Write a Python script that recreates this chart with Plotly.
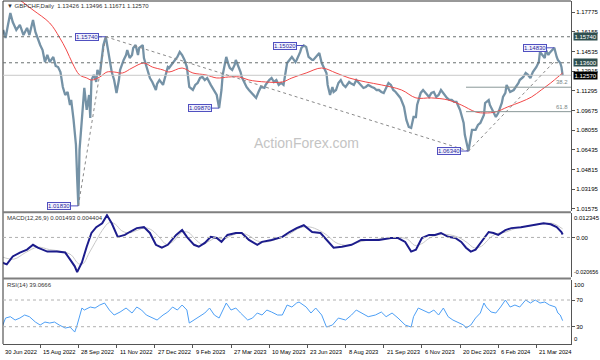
import plotly.graph_objects as go

# ---------------- data (bar index = trading days from 30 Jun 2022) ----------------
price_idx = [1,3,5,7,9,12,15,18,21,23,26,28,32,34,36,38,40,43,45,47,49,51,53,55,57,58,60,62,63,64,65,66,68,69,71,73,74,75,77,79,80,82,84,85,87,89,90,92,94,96,98,99,102,104,105,107,109,110,112,114,115,118,119,122,124,126,129,130,132,135,137,139,140,143,145,147,149,151,153,155,157,160,162,164,166,168,170,172,175,176,179,180,182,184,185,188,190,191,193,195,196,198,200,201,203,205,207,209,211,213,215,217,220,221,224,226,228,230,232,234,236,239,241,243,246,247,250,251,253,255,257,260,261,264,266,268,270,272,273,275,277,278,280,282,284,286,288,291,292,295,297,299,301,303,305,307,310,312,314,316,318,320,322,324,326,328,330,333,334,337,339,341,343,345,347,348,351,353,355,358,360,362,364,366,368,371,373,375,377,379,381,384,387,388,390,391,393,394,397,399,401,404,405,408,409,411,413,414,416,419,420,422,423,425,426,429,431,433,434,437,439,441,443,445,448,450,451,453,455,456,458,459,461,463,465,466,468,469,470]
price_close = [1.1630,1.1564,1.1671,1.1769,1.1695,1.1630,1.1671,1.1588,1.1646,1.1588,1.1712,1.1613,1.1506,1.1465,1.1366,1.1424,1.1366,1.1408,1.1334,1.1325,1.1284,1.1161,1.1095,1.1120,1.1013,1.1054,1.0890,1.0684,1.0413,1.0183,1.0644,1.0767,1.1054,1.1153,1.0972,1.1095,1.0906,1.1218,1.1260,1.1202,1.1301,1.1260,1.1424,1.1506,1.1574,1.1465,1.1383,1.1284,1.1218,1.1112,1.1218,1.1301,1.1383,1.1424,1.1465,1.1399,1.1424,1.1482,1.1506,1.1424,1.1482,1.1506,1.1399,1.1301,1.1235,1.1202,1.1136,1.1186,1.1218,1.1178,1.1260,1.1325,1.1317,1.1358,1.1383,1.1408,1.1449,1.1424,1.1383,1.1325,1.1161,1.1136,1.1178,1.1194,1.1235,1.1243,1.1218,1.1235,1.1178,1.1161,1.1120,1.1095,1.0987,1.1136,1.1260,1.1408,1.1342,1.1317,1.1301,1.1342,1.1383,1.1334,1.1284,1.1243,1.1202,1.1161,1.1136,1.1112,1.1095,1.1071,1.1120,1.1161,1.1153,1.1178,1.1218,1.1235,1.1202,1.1218,1.1178,1.1194,1.1178,1.1358,1.1383,1.1408,1.1366,1.1383,1.1449,1.1482,1.1502,1.1490,1.1408,1.1383,1.1383,1.1424,1.1441,1.1358,1.1317,1.1276,1.1178,1.1095,1.1161,1.1120,1.1136,1.1194,1.1218,1.1178,1.1161,1.1202,1.1194,1.1178,1.1218,1.1194,1.1178,1.1153,1.1161,1.1178,1.1161,1.1153,1.1136,1.1136,1.1120,1.1112,1.1153,1.1194,1.1178,1.1136,1.1120,1.1079,1.1071,1.0997,1.0890,1.0832,1.0824,1.0914,1.0914,1.1013,1.1112,1.1136,1.1112,1.1079,1.1112,1.1120,1.1079,1.1095,1.1136,1.1095,1.1071,1.1054,1.1054,1.1038,1.1038,1.0972,1.0865,1.0767,1.0660,1.0634,1.0750,1.0808,1.0808,1.0849,1.0865,1.0931,1.1029,1.1054,1.1013,1.0972,1.0931,1.0914,1.0947,1.1029,1.1079,1.1112,1.1178,1.1136,1.1120,1.1136,1.1161,1.1194,1.1218,1.1243,1.1276,1.1260,1.1235,1.1284,1.1325,1.1366,1.1449,1.1424,1.1399,1.1465,1.1424,1.1441,1.1465,1.1483,1.1408,1.1383,1.1358,1.1325,1.1257]

ma_idx = [15,26,40,48,54,59,65,71,75,82,88,94,101,109,119,126,135,140,151,160,171,180,190,199,207,221,235,243,255,268,280,291,305,318,335,347,360,374,385,397,405,414,424,435,444,452,460,466,470]
ma_val = [1.1876,1.1794,1.1687,1.1572,1.1465,1.1358,1.1260,1.1235,1.1218,1.1243,1.1284,1.1284,1.1276,1.1317,1.1358,1.1325,1.1301,1.1284,1.1317,1.1276,1.1260,1.1235,1.1243,1.1243,1.1218,1.1202,1.1202,1.1235,1.1276,1.1317,1.1276,1.1235,1.1202,1.1178,1.1136,1.1071,1.1071,1.1054,1.1013,1.0956,1.0947,1.0956,1.0997,1.1038,1.1079,1.1136,1.1194,1.1243,1.1276]

macd_idx = [0,4,9,15,21,26,30,34,38,46,53,57,61,63,67,71,75,79,84,88,92,97,103,107,113,119,124,129,134,139,146,151,155,161,165,170,175,180,184,189,196,201,207,214,218,226,235,241,247,253,260,267,272,278,285,293,301,307,316,326,332,338,343,347,352,358,363,368,374,380,385,389,393,397,402,408,412,416,422,427,435,444,448,454,460,465,469,470]
macd_val = [-0.0129,-0.0139,-0.0098,-0.0078,-0.0063,-0.0038,-0.0053,-0.0063,-0.0073,-0.0073,-0.0078,-0.0113,-0.0149,-0.0179,-0.0129,-0.0048,0.0023,0.0053,0.0073,0.0115,0.0073,0.0003,0.0013,0.0028,0.0048,0.0053,0.0023,-0.0038,-0.0053,-0.0038,0.0013,0.0038,0.0003,-0.0038,-0.0048,-0.0028,0.0003,-0.0003,-0.0023,0.0013,0.0023,0.0023,-0.0013,-0.0038,-0.0023,-0.0013,0.0003,0.0028,0.0048,0.0063,0.0028,0.0023,-0.0013,-0.0053,-0.0048,-0.0038,-0.0013,-0.0013,-0.0013,-0.0003,-0.0003,-0.0023,-0.0073,-0.0063,-0.0003,0.0013,0.0013,0.0023,0.0003,-0.0003,-0.0023,-0.0053,-0.0073,-0.0063,-0.0023,0.0028,0.0023,0.0013,0.0038,0.0048,0.0053,0.0063,0.0068,0.0073,0.0068,0.0053,0.0028,0.0015]

signal_idx = [0,10,20,30,40,50,58,64,68,73,78,84,90,95,100,106,113,120,126,132,138,144,150,156,162,168,174,180,186,192,200,207,214,222,230,240,250,258,266,273,280,290,300,310,322,332,340,346,352,358,366,375,383,390,396,402,408,414,422,432,444,454,462,470]
signal_val = [-0.0100,-0.0112,-0.0077,-0.0050,-0.0063,-0.0072,-0.0090,-0.0135,-0.0135,-0.0081,-0.0027,0.0036,0.0077,0.0068,0.0036,0.0023,0.0036,0.0050,0.0036,0.0000,-0.0036,-0.0018,0.0023,0.0027,-0.0009,-0.0036,-0.0018,0.0000,-0.0009,0.0009,0.0023,0.0009,-0.0018,-0.0023,-0.0009,0.0014,0.0050,0.0054,0.0036,0.0009,-0.0027,-0.0041,-0.0023,-0.0011,-0.0005,0.0000,-0.0009,-0.0041,-0.0032,-0.0005,0.0014,0.0014,0.0000,-0.0027,-0.0054,-0.0045,-0.0009,0.0018,0.0027,0.0050,0.0061,0.0070,0.0072,0.0044]

rsi_idx = [0,3,7,11,15,19,23,28,32,36,40,44,48,53,57,61,63,67,69,74,78,82,86,90,94,99,104,109,113,117,121,126,130,135,139,143,147,151,155,157,161,165,170,174,178,182,188,192,196,200,206,210,214,218,222,226,231,235,239,243,247,249,255,259,263,268,272,277,282,288,293,297,302,307,313,318,322,327,332,338,343,345,349,353,358,362,366,370,374,378,383,387,389,393,397,401,404,406,410,414,418,422,426,430,434,439,443,447,451,455,459,464,466,468,470]
rsi_val = [29.5,43,45,40,43,47.5,45,37,32.5,37,35.5,37,32.5,28,29.5,22,32.5,58,55,59.5,58,62.5,65.5,55,47.5,52,58,50.5,59.5,55,47.5,43,40,47.5,52,59.5,55,62.5,55,35.5,40,45,50.5,58,47.5,43,65.5,55,58,50.5,40,43,50.5,47.5,55,52,47.5,47.5,62.5,59.5,65.5,67,59.5,50.5,58,47.5,29.5,32.5,43,40,47.5,55,50.5,45,47.5,52,45,50.5,43,32.5,29.5,45,58,55,50.5,55,47.5,58,45,40,35.5,32.5,28,32.5,43,50.5,65.5,59.5,52,50.5,59.5,70,59.5,62.5,59.5,70,65.5,70,65.5,67,62.5,59.5,50.5,47.5,39.07]

date_labels = ["30 Jun 2022","15 Aug 2022","28 Sep 2022","11 Nov 2022","27 Dec 2022","9 Feb 2023",
               "27 Mar 2023","10 May 2023","23 Jun 2023","8 Aug 2023","21 Sep 2023","6 Nov 2023",
               "20 Dec 2023","6 Feb 2024","21 Mar 2024"]
date_idx = [0,32,64,96,128,160,192,224,256,288,320,352,384,416,448]

price_ticks = [1.17775,1.16155,1.14535,1.12915,1.11295,1.09675,1.08055,1.06435,1.04815,1.03195,1.01575]

swing_idx = [87,64,182,253,391,463]
swing_val = [1.15740,1.01830,1.09870,1.15020,1.06340,1.14830]

level_high = 1.15740
level_mid = 1.13600
last_close = 1.12570
fib_382 = 1.1159
fib_618 = 1.0958
fib_start = 389

# ---------------- figure ----------------
FONT = "Liberation Sans"
X_MIN = 0.84
X_MAX = 477
fig = go.Figure()
fig.add_trace(go.Scatter(x=price_idx, y=price_close, mode="lines",
                         line=dict(color="#7592a6", width=2.3), xaxis="x", yaxis="y"))
fig.add_trace(go.Scatter(x=ma_idx, y=ma_val, mode="lines",
                         line=dict(color="#f24848", width=1, shape="spline"), xaxis="x", yaxis="y"))
fig.add_trace(go.Scatter(x=signal_idx, y=signal_val, mode="lines",
                         line=dict(color="#c8c8c8", width=1, shape="spline"), xaxis="x", yaxis="y2"))
fig.add_trace(go.Scatter(x=macd_idx, y=macd_val, mode="lines",
                         line=dict(color="#1c1c8c", width=2), xaxis="x", yaxis="y2"))
fig.add_trace(go.Scatter(x=rsi_idx, y=rsi_val, mode="lines",
                         line=dict(color="#4d9ff5", width=1), xaxis="x", yaxis="y3"))

tf = dict(family=FONT, size=6, color="#000000")
fig.update_layout(
    width=600, height=360, margin=dict(l=3, r=27, t=1, b=16),
    paper_bgcolor="white", plot_bgcolor="white", showlegend=False,
    font=dict(family=FONT, size=6, color="#000"),
    xaxis=dict(domain=[0, 1], range=[X_MIN, X_MAX], anchor="y3", showgrid=False, zeroline=False,
               showline=True, linecolor="#555", ticks="outside", ticklen=3, tickcolor="#555",
               tickvals=date_idx, showticklabels=False),
    yaxis=dict(domain=[0.3878, 1], range=[1.0141, 1.1868], side="right", anchor="x",
               showgrid=False, zeroline=False, showline=True, linecolor="#555",
               ticks="outside", ticklen=3, tickcolor="#555", tickfont=tf,
               tickvals=price_ticks, ticktext=[f"{v:.5f}" for v in price_ticks]),
    yaxis2=dict(domain=[0.1939, 0.3805], range=[-0.020656, 0.012345], side="right", anchor="x",
                showgrid=False, zeroline=False, showline=True, linecolor="#555",
                ticks="outside", ticklen=3, tickcolor="#555", tickfont=tf,
                tickvals=[0], ticktext=["0.00"]),
    yaxis3=dict(domain=[0, 0.188], range=[4.1, 100.7], side="right", anchor="x",
                showgrid=False, zeroline=False, showline=True, linecolor="#555",
                ticks="outside", ticklen=3, tickcolor="#555", tickfont=tf,
                tickvals=[70, 30], ticktext=["70", "30"]),
)

shapes = []
shapes.append(dict(type="line", xref="paper", yref="paper", x0=0, x1=0, y0=0, y1=1,
                   line=dict(color="#333", width=1)))
shapes.append(dict(type="line", xref="paper", yref="paper", x0=0, x1=1, y0=1, y1=1,
                   line=dict(color="#333", width=1)))
for yy in (0.384, 0.191):
    shapes.append(dict(type="line", xref="paper", yref="paper", x0=0, x1=1, y0=yy, y1=yy,
                       line=dict(color="#7f7f7f", width=2)))
for lv in (level_high, level_mid):
    shapes.append(dict(type="line", xref="paper", yref="y", x0=0, x1=1, y0=lv, y1=lv,
                       line=dict(color="#6a7070", width=1, dash="dot")))
shapes.append(dict(type="line", xref="paper", yref="y", x0=0, x1=1, y0=last_close, y1=last_close,
                   line=dict(color="#c8c8c8", width=1)))
for lv in (fib_382, fib_618):
    shapes.append(dict(type="line", xref="x", yref="y", x0=fib_start, x1=X_MAX, y0=lv, y1=lv,
                       line=dict(color="#8a9898", width=1)))
trend = [(64, 1.0183, 87, 1.1574), (87, 1.1574, 391, 1.0634), (391, 1.0634, 464, 1.1380)]
for a, b, c, d in trend:
    shapes.append(dict(type="line", xref="x", yref="y", x0=a, y0=b, x1=c, y1=d,
                       line=dict(color="#8a8a8a", width=1, dash="dot")))
shapes.append(dict(type="line", xref="paper", yref="y2", x0=0, x1=1, y0=0, y1=0,
                   line=dict(color="#b0b0b0", width=1, dash="dot")))
for lv in (70, 30):
    shapes.append(dict(type="line", xref="paper", yref="y3", x0=0, x1=1, y0=lv, y1=lv,
                       line=dict(color="#b0b0b0", width=1, dash="dot")))
fig.update_layout(shapes=shapes)

ann = []
ann.append(dict(xref="paper", yref="paper", x=0.004, y=0.984, xanchor="left", yanchor="middle",
                text="▼ GBPCHF,Daily  1.13426 1.13496 1.11671 1.12570", showarrow=False,
                font=dict(family=FONT, size=6, color="#333")))
ann.append(dict(xref="paper", yref="paper", x=0.004, y=0.366, xanchor="left", yanchor="middle",
                text="MACD(12,26,9) 0.001493 0.004404", showarrow=False,
                font=dict(family=FONT, size=6, color="#333")))
ann.append(dict(xref="paper", yref="paper", x=0.004, y=0.172, xanchor="left", yanchor="middle",
                text="RSI(14) 39.0666", showarrow=False,
                font=dict(family=FONT, size=6, color="#333")))
ann.append(dict(xref="paper", yref="paper", x=0.535, y=0.585, xanchor="center", yanchor="middle",
                text="ActionForex.com", showarrow=False,
                font=dict(family=FONT, size=14, color="#c4c4c4")))
for xi, v in zip(swing_idx, swing_val):
    ann.append(dict(x=xi, y=v, xref="x", yref="y", text=f"{v:.5f}", showarrow=True,
                    arrowhead=0, arrowwidth=1, arrowcolor="#5050c0", ax=-19, ay=0,
                    font=dict(family=FONT, size=6, color="#2a2a9a"), bgcolor="#f2f2ff",
                    bordercolor="#5050c0", borderwidth=1, borderpad=0))
for lv, t in ((fib_382, "38.2"), (fib_618, "61.8")):
    ann.append(dict(x=X_MAX - 1, y=lv, xref="x", yref="y", text=t, showarrow=False,
                    xanchor="right", yanchor="bottom", font=dict(family=FONT, size=6, color="#7a8888")))
for lv, bg in ((level_high, "#2f4f4f"), (level_mid, "#2f4f4f"), (last_close, "#000000")):
    ann.append(dict(xref="paper", yref="y", x=1, y=lv, xanchor="left", yanchor="middle", xshift=2,
                    text=f"{lv:.5f}", showarrow=False, bgcolor=bg, borderpad=0.5,
                    font=dict(family=FONT, size=6, color="white")))
edge = [(0.3805, "0.012345", "top", 6), (0.1939, "-0.020656", "bottom", 5.4),
        (0.188, "100", "top", 6), (0.0, "0", "bottom", 6)]
for yy, t, anc, fs in edge:
    ann.append(dict(xref="paper", yref="paper", x=1, y=yy, xanchor="left", yanchor=anc, xshift=1,
                    text=t, showarrow=False, font=dict(family=FONT, size=fs, color="#000")))
for xi, t in zip(date_idx, date_labels):
    ann.append(dict(xref="x", yref="paper", x=max(xi, X_MIN), y=-0.023, xanchor="left",
                    yanchor="middle", xshift=0 if xi < X_MIN else 1, text=t, showarrow=False,
                    font=dict(family=FONT, size=5.8, color="#000")))
fig.update_layout(annotations=ann)

fig.write_html("out.html")
